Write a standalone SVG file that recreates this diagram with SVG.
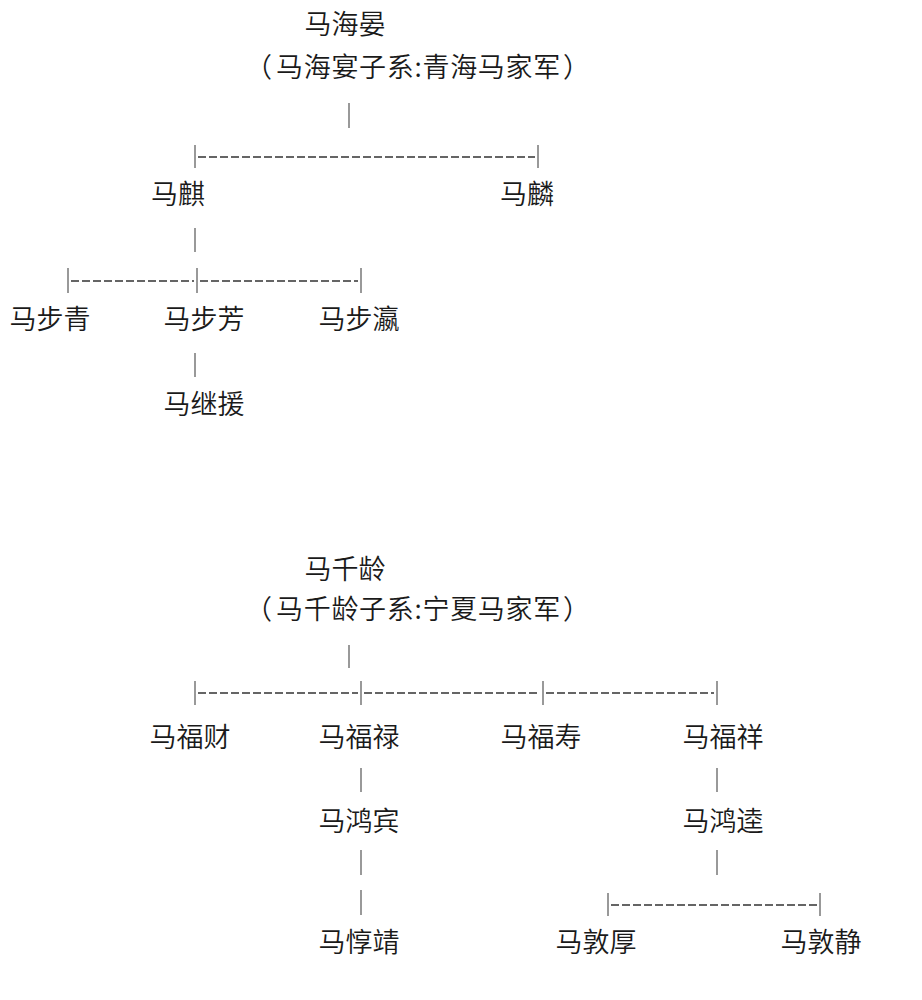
<svg xmlns="http://www.w3.org/2000/svg" width="922" height="1000" viewBox="0 0 922 1000">
<style>
.t{font-family:"Noto Sans CJK SC","Noto Sans",sans-serif;font-size:27px;font-weight:350;fill:#1a1a1a;text-anchor:middle}
.s{font-family:"Noto Sans CJK SC","Noto Sans",sans-serif;font-size:27px;font-weight:350;fill:#1a1a1a}
.v{stroke:#555;stroke-width:1.2;fill:none}
.d{stroke:#333;stroke-width:1.3;stroke-dasharray:8 3;fill:none}
</style>
<rect width="922" height="1000" fill="#fff"/>
<g id="connectors">
<line class="v" x1="349" y1="103" x2="349" y2="128"/>
<line class="v" x1="195" y1="145" x2="195" y2="168"/>
<line class="v" x1="538" y1="145" x2="538" y2="168"/>
<line class="d" x1="198" y1="157" x2="535" y2="157"/>
<line class="v" x1="195" y1="228" x2="195" y2="252"/>
<line class="v" x1="68" y1="268" x2="68" y2="293"/>
<line class="v" x1="197" y1="268" x2="197" y2="293"/>
<line class="v" x1="361" y1="268" x2="361" y2="293"/>
<line class="d" x1="71" y1="281" x2="194" y2="281"/>
<line class="d" x1="200" y1="281" x2="358" y2="281"/>
<line class="v" x1="195" y1="353" x2="195" y2="377"/>
<line class="v" x1="349" y1="645" x2="349" y2="668"/>
<line class="v" x1="195" y1="681" x2="195" y2="705"/>
<line class="v" x1="361" y1="681" x2="361" y2="705"/>
<line class="v" x1="543" y1="681" x2="543" y2="705"/>
<line class="v" x1="717" y1="681" x2="717" y2="705"/>
<line class="d" x1="198" y1="693" x2="358" y2="693"/>
<line class="d" x1="364" y1="693" x2="540" y2="693"/>
<line class="d" x1="546" y1="693" x2="714" y2="693"/>
<line class="v" x1="361" y1="768" x2="361" y2="792"/>
<line class="v" x1="717" y1="768" x2="717" y2="792"/>
<line class="v" x1="361" y1="850" x2="361" y2="875"/>
<line class="v" x1="361" y1="890" x2="361" y2="915"/>
<line class="v" x1="717" y1="850" x2="717" y2="875"/>
<line class="v" x1="608" y1="893" x2="608" y2="916"/>
<line class="v" x1="820" y1="893" x2="820" y2="916"/>
<line class="d" x1="611" y1="905" x2="817" y2="905"/>
</g>
<g id="n-mahaiyan"><text class="t" x="345" y="34">马海晏</text><text class="s" y="77"><tspan x="245">（</tspan><tspan x="276" letter-spacing="0.7">马海宴子系:青海马家军</tspan><tspan x="563">）</tspan></text></g>
<g id="n-maqi"><text class="t" x="178" y="204">马麒</text></g>
<g id="n-malin"><text class="t" x="527" y="204">马麟</text></g>
<g id="n-mabuqing"><text class="t" x="50" y="329">马步青</text></g>
<g id="n-mabufang"><text class="t" x="204" y="329">马步芳</text></g>
<g id="n-mabuying"><text class="t" x="359" y="329">马步瀛</text></g>
<g id="n-majiyuan"><text class="t" x="204" y="414">马继援</text></g>
<g id="n-maqianling"><text class="t" x="345" y="579">马千龄</text><text class="s" y="619"><tspan x="245">（</tspan><tspan x="276" letter-spacing="0.7">马千龄子系:宁夏马家军</tspan><tspan x="563">）</tspan></text></g>
<g id="n-mafucai"><text class="t" x="190" y="747">马福财</text></g>
<g id="n-mafulu"><text class="t" x="359" y="747">马福禄</text></g>
<g id="n-mafushou"><text class="t" x="541" y="747">马福寿</text></g>
<g id="n-mafuxiang"><text class="t" x="723" y="747">马福祥</text></g>
<g id="n-mahongbin"><text class="t" x="359" y="831">马鸿宾</text></g>
<g id="n-mahongkui"><text class="t" x="723" y="831">马鸿逵</text></g>
<g id="n-machunjing"><text class="t" x="359" y="952">马惇靖</text></g>
<g id="n-maduanhou"><text class="t" x="596" y="952">马敦厚</text></g>
<g id="n-madunjing"><text class="t" x="821" y="952">马敦静</text></g>
</svg>
